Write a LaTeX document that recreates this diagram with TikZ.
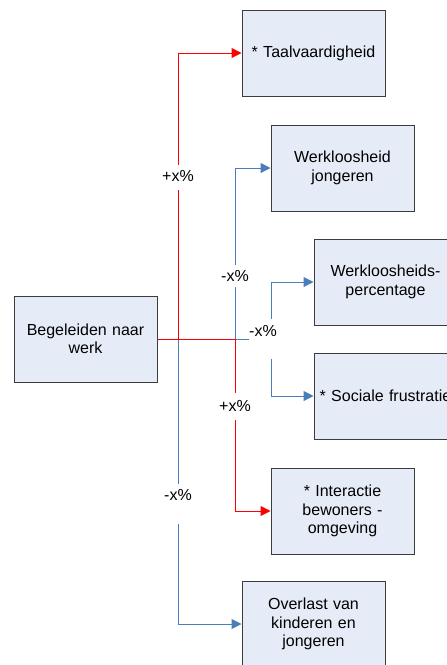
\documentclass[tikz,border=0pt]{standalone}
\usepackage{fontspec}
\setmainfont{Liberation Sans}
\usetikzlibrary{arrows.meta}
\definecolor{boxfill}{HTML}{E6ECF7}
\definecolor{boxline}{HTML}{3C3C3C}
\definecolor{cblue}{HTML}{4A7EBB}
\definecolor{cred}{HTML}{FF0000}
\begin{document}
\begin{tikzpicture}[x=1pt,y=-1pt,
  box/.style={draw=boxline, fill=boxfill, line width=1pt, minimum width=143pt, minimum height=86pt, inner sep=2pt, align=center, text width=139pt, font=\fontsize{16}{18.5}\selectfont},
  conn/.style={line width=1pt, -{Triangle[length=10pt,width=10pt]}},
  lbl/.style={fill=white, inner xsep=0pt, inner ysep=0pt, anchor=base, font=\fontsize{16}{18.5}\selectfont}]
\useasboundingbox (0,0) rectangle (447,665);
\node[box] (beg) at (85.5,339) {Begeleiden naar\\werk};
\node[box] (taal) at (313.5,53) {* Taalvaardigheid};
\node[box] (wj) at (342.5,168) {Werkloosheid\\jongeren};
\node[box] (wp) at (385.5,282) {Werkloosheids-\\percentage};
\node[box] (sf) at (385.5,396) {* Sociale frustratie};
\node[box] (ia) at (342.5,511) {* Interactie\\bewoners -\\omgeving};
\node[box] (ov) at (313.5,624) {Overlast van\\kinderen en\\jongeren};
% connectors
\draw[conn,cblue] (beg.east) -- ++(114,0) |- (wp.west);
\draw[conn,cblue] (beg.east) -- ++(114,0) |- (sf.west);
\draw[conn,cblue] (beg.east) -- ++(78,0) |- (wj.west);
\draw[conn,cblue] (beg.east) -- ++(21,0) |- (ov.west);
\draw[conn,cred] (beg.east) -- ++(78,0) |- (ia.west);
\draw[conn,cred] (beg.east) -- ++(21,0) |- (taal.west);
% labels
\node[lbl, text height=16pt, text depth=9pt] (l1) at (178,181) {+x\%};
\node[lbl, text height=16pt, text depth=6pt] (l2) at (235,281) {-x\%};
\node[lbl, text height=17pt, text depth=23pt] (l3) at (263,336) {-x\%};
\node[lbl, text height=18pt, text depth=9pt] (l4) at (235,411) {+x\%};
\node[lbl, text height=16pt, text depth=24pt] (l5) at (178,500) {-x\%};
\end{tikzpicture}
\end{document}
